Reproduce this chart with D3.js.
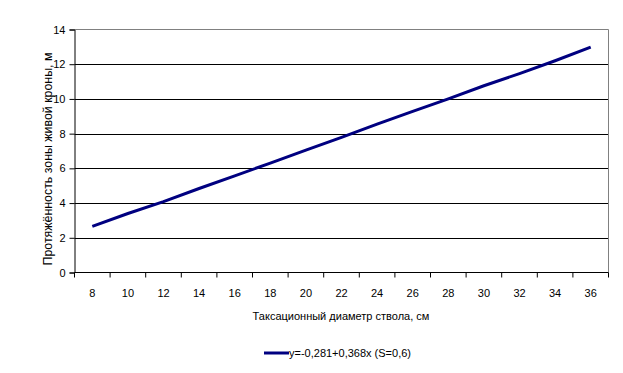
<!DOCTYPE html>
<html>
<head>
<meta charset="utf-8">
<script src="https://cdn.jsdelivr.net/npm/d3@7"></script>
<style>
  body { margin: 0; background: #fff; }
  text { font-family: "Liberation Sans", Arial, sans-serif; fill: #000; }
</style>
</head>
<body>
<svg id="chart" width="623" height="373"></svg>
<script>
// diameter classes, cm
var diameters = [8, 10, 12, 14, 16, 18, 20, 22, 24, 26, 28, 30, 32, 34, 36];
// crown length, m
var crownLength = [2.66, 3.40, 4.08, 4.84, 5.57, 6.30, 7.05, 7.79, 8.55, 9.28, 10.0, 10.76, 11.46, 12.2, 12.98];
var yTicks = [0, 2, 4, 6, 8, 10, 12, 14];
var seriesName = "y=-0,281+0,368x (S=0,6)";
var xTitle = "Таксационный диаметр ствола, см";
var yTitle = "Протяжённость зоны живой кроны, м";

// plot area (note: "top" is taken by window.top)
var plotLeft = 74.5, plotRight = 608.5, plotTop = 29.5, plotBottom = 272.5;

var svg = d3.select("#chart");

var x = d3.scaleBand()
    .domain(diameters)
    .range([plotLeft, plotRight]);

var y = d3.scaleLinear()
    .domain([0, 14])
    .range([plotBottom, plotTop]);

// gridlines
svg.append("g")
    .selectAll("line")
    .data(yTicks.filter(d => d > 0 && d < 14))
    .join("line")
    .attr("x1", plotLeft).attr("x2", plotRight)
    .attr("y1", d => Math.round(y(d)) + 0.5)
    .attr("y2", d => Math.round(y(d)) + 0.5)
    .style("stroke", "#000")
    .style("stroke-width", 1);

// plot border (top and right grey)
svg.append("path")
    .attr("d", `M${plotLeft},${plotTop}H${plotRight}V${plotBottom}`)
    .attr("fill", "none")
    .style("stroke", "#808080")
    .style("stroke-width", 1);

// y axis
var yAxis = svg.append("g")
    .attr("transform", `translate(${plotLeft},0)`)
    .call(d3.axisLeft(y).tickValues(yTicks).tickSize(5).tickPadding(4).tickFormat(d3.format("d")));

yAxis.attr("font-family", null).attr("font-size", null);
yAxis.select(".domain").style("stroke", "#000");
yAxis.selectAll(".tick line").style("stroke", "#000");
yAxis.selectAll(".tick text").style("font-size", "11px");

// x axis with ticks between categories
var xAxis = svg.append("g")
    .attr("transform", `translate(0,${plotBottom})`);
xAxis.append("line")
    .attr("x1", plotLeft).attr("x2", plotRight)
    .style("stroke", "#000");
xAxis.selectAll(".tk")
    .data(diameters.concat(["end"]))
    .join("line")
    .attr("class", "tk")
    .attr("x1", (d, i) => i < diameters.length ? x(d) : plotRight)
    .attr("x2", (d, i) => i < diameters.length ? x(d) : plotRight)
    .attr("y1", 0).attr("y2", 5)
    .style("stroke", "#000");
xAxis.selectAll("text")
    .data(diameters)
    .join("text")
    .attr("x", d => x(d) + x.bandwidth() / 2)
    .attr("y", 24)
    .attr("text-anchor", "middle")
    .style("font-size", "11px")
    .text(d => d);

// the line
var line = d3.line()
    .x((d, i) => x(diameters[i]) + x.bandwidth() / 2)
    .y(d => y(d));

svg.append("path")
    .datum(crownLength)
    .attr("d", line)
    .attr("fill", "none")
    .style("stroke", "#000080")
    .style("stroke-width", 3);

// axis titles
svg.append("text")
    .attr("x", 341)
    .attr("y", 320)
    .attr("text-anchor", "middle")
    .style("font-size", "11px")
    .text(xTitle);

svg.append("text")
    .attr("transform", "translate(52,159) rotate(-90)")
    .attr("text-anchor", "middle")
    .style("font-size", "12px")
    .attr("textLength", 213)
    .attr("lengthAdjust", "spacingAndGlyphs")
    .text(yTitle);

// legend
var legend = svg.append("g").attr("transform", "translate(264,353)");
legend.append("line")
    .attr("x1", 0).attr("x2", 25)
    .style("stroke", "#000080")
    .style("stroke-width", 3);
legend.append("text")
    .attr("x", 25)
    .attr("y", 4)
    .style("font-size", "11px")
    .text(seriesName);
</script>
</body>
</html>
